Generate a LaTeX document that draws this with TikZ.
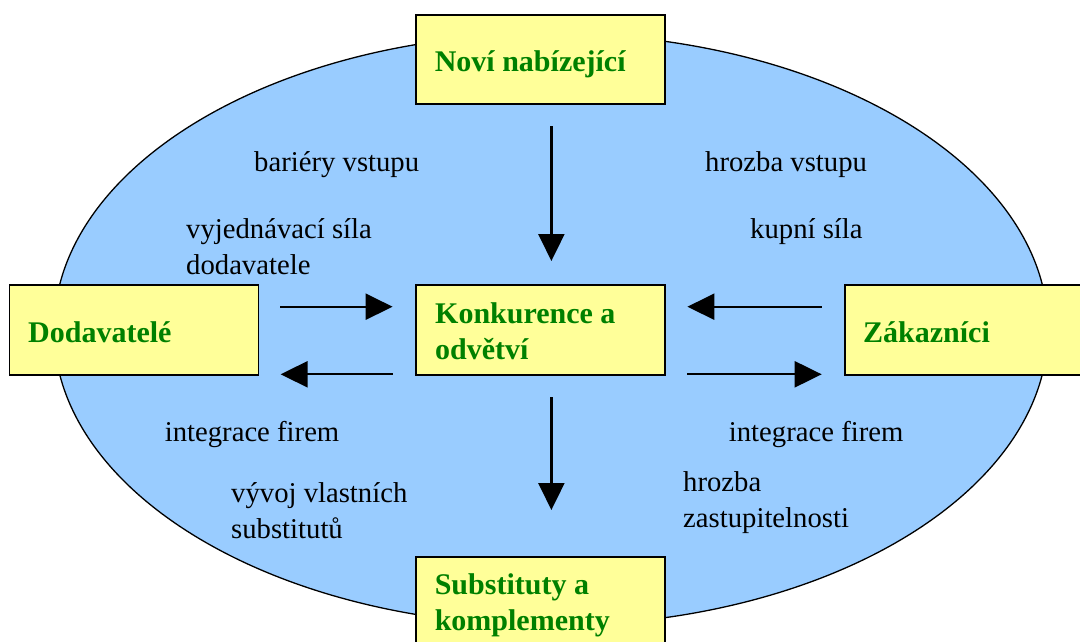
\documentclass[tikz,border=0pt]{standalone}
\usepackage{fontspec}
\setmainfont{Liberation Serif}
\usetikzlibrary{arrows.meta,shapes.geometric}
\definecolor{ellblue}{HTML}{99CCFF}
\definecolor{boxyellow}{HTML}{FFFF99}
\definecolor{txtgreen}{HTML}{008000}
\begin{document}
\begin{tikzpicture}[x=1pt,y=-1pt,
  field/.style={ellipse, draw=black, line width=1.3pt, fill=ellblue, inner sep=0pt, minimum width=994pt, minimum height=592pt},
  forcebox/.style={rectangle, draw=black, line width=1.6pt, fill=boxyellow, inner sep=0pt, anchor=north west},
  forcetext/.style={anchor=base west, inner sep=0pt, text=txtgreen, font=\fontsize{30}{36}\selectfont\bfseries, align=left},
  note/.style={anchor=base west, inner sep=0pt, font=\fontsize{28.7}{36}\selectfont, align=left},
  flow/.style={line width=2.2pt, -{Triangle[length=27pt,width=26pt]}}
]
\useasboundingbox (0,0) rectangle (1080,641);
\clip (0,0) rectangle (1080,641);
\node[field] (industry) at (551,329.5) {};
% boxes
\node[forcebox, minimum width=249pt, minimum height=89pt] (newbox) at (415,14) {};
\node[forcebox, minimum width=249pt, minimum height=90pt] (supbox) at (8.6,284) {};
\node[forcebox, minimum width=249pt, minimum height=90pt] (combox) at (415,284) {};
\node[forcebox, minimum width=260pt, minimum height=90pt] (cusbox) at (844,284) {};
\node[forcebox, minimum width=249pt, minimum height=100pt] (subbox) at (415,556) {};
% box texts (base = baseline of last line)
\node[forcetext] (newtxt) at (434.6,71) {Noví nabízející};
\node[forcetext] (suptxt) at (28,342.7) {Dodavatelé};
\node[forcetext] (comtxt) at (435,359) {Konkurence a\\odvětví};
\node[forcetext] (custxt) at (863,342) {Zákazníci};
\node[forcetext] (subtxt) at (434.6,630.7) {Substituty a\\komplementy};
% labels
\node[note] (l1) at (254,171) {bariéry vstupu};
\node[note] (l2) at (186,274) {vyjednávací síla\\dodavatele};
\node[note] (l3) at (705,171) {hrozba vstupu};
\node[note] (l4) at (750,238) {kupní síla};
\node[note] (l5) at (164.6,441) {integrace firem};
\node[note] (l6) at (231,538) {vývoj vlastních\\substitutů};
\node[note] (l7) at (728.7,441) {integrace firem};
\node[note] (l8) at (683,527) {hrozba\\zastupitelnosti};
% arrow end points
\coordinate (a1s) at (551.4,126);   \coordinate (a1e) at (551.4,261);
\coordinate (a2s) at (280,306.7);   \coordinate (a2e) at (392.6,306.7);
\coordinate (a3s) at (821.7,306.7); \coordinate (a3e) at (687.4,306.7);
\coordinate (a4s) at (392.6,374.3); \coordinate (a4e) at (280.6,374.3);
\coordinate (a5s) at (687.4,374.3); \coordinate (a5e) at (821.7,374.3);
\coordinate (a6s) at (551.4,397);   \coordinate (a6e) at (551.4,510);
\draw[flow] (a1s) -- (a1e);
\draw[flow] (a2s) -- (a2e);
\draw[flow] (a3s) -- (a3e);
\draw[flow] (a4s) -- (a4e);
\draw[flow] (a5s) -- (a5e);
\draw[flow] (a6s) -- (a6e);
\end{tikzpicture}
\end{document}
